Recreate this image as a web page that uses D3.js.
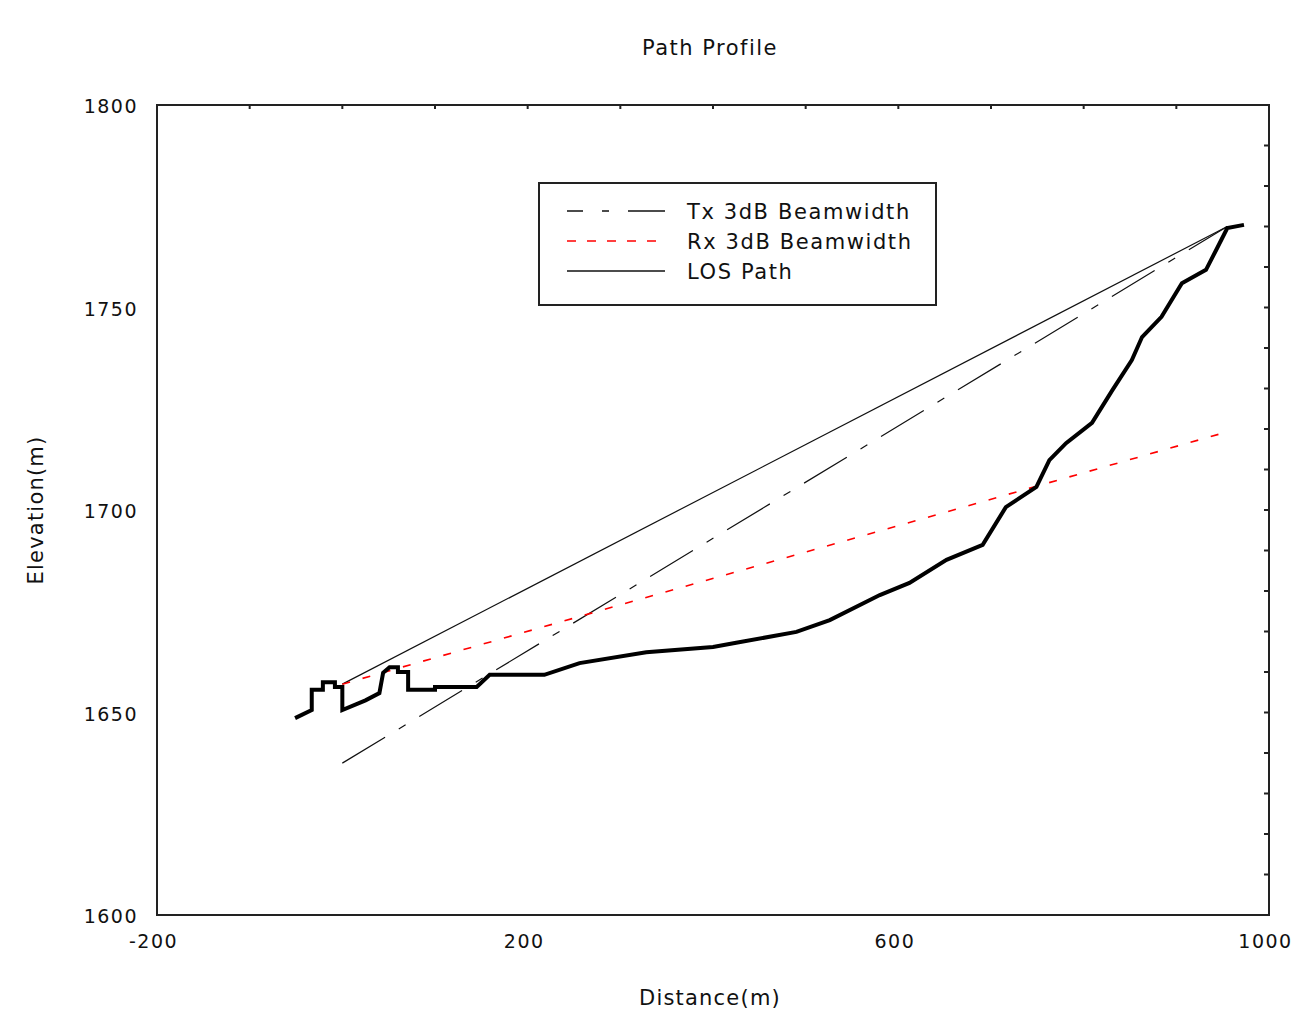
<!DOCTYPE html>
<html><head><meta charset="utf-8">
<script src="https://cdn.jsdelivr.net/npm/d3@7"></script>
<style>
html,body{margin:0;padding:0;background:#fff;}
text{font-family:"DejaVu Sans",sans-serif;fill:#111;}
</style></head>
<body><svg id="c" width="1302" height="1017"></svg>
<script>
// Terrain profile (distance m, elevation m)
const terrainX = [-51,-33,-33,-21,-21,-8,-8,0,0,25,40,44,51,60,60,71,71,100,100,145,159,218,256,328,400,425,490,526,580,612,652,691,716,749,763,781,809,831,852,863,884,906,932,943,955,973];
const terrainY = [1648.6,1650.6,1655.6,1655.6,1657.5,1657.5,1656.3,1656.3,1650.6,1653,1654.8,1659.8,1661.2,1661.2,1660,1660,1655.6,1655.6,1656.3,1656.3,1659.3,1659.3,1662.2,1664.9,1666.2,1667.2,1669.9,1672.8,1679,1682,1687.7,1691.4,1700.7,1705.7,1712.3,1716.5,1721.5,1729.6,1737,1742.7,1747.7,1756,1759.3,1764.2,1769.6,1770.4];
const losX = [0,955];
const losY = [1657,1770];
const txX = [0,955];
const txY = [1637.5,1770];
const rxX = [0,955];
const rxY = [1657,1719.3];
const xTicks = [-200,200,600,1000];
const yTicks = [1600,1650,1700,1750,1800];
const legendLabels = ["Tx 3dB Beamwidth","Rx 3dB Beamwidth","LOS Path"];

const svg = d3.select("#c");
const L=157,T=105,R=1269,B=915;
const x = d3.scaleLinear().domain([-200,1000]).range([L,R]);
const y = d3.scaleLinear().domain([1600,1800]).range([B,T]);

svg.append("rect").attr("width",1302).attr("height",1017).attr("fill","#fff");

// minor ticks: top every 100, right every 10
const topMinor = d3.range(-100,1000,100);
svg.append("g").selectAll("line").data(topMinor).join("line")
  .attr("x1",d=>x(d)).attr("x2",d=>x(d)).attr("y1",T).attr("y2",T+4)
  .attr("stroke","#222").attr("stroke-width",2);
const rightMinor = d3.range(1610,1800,10);
svg.append("g").selectAll("line").data(rightMinor).join("line")
  .attr("x1",R-5).attr("x2",R).attr("y1",d=>y(d)).attr("y2",d=>y(d))
  .attr("stroke","#222").attr("stroke-width",2);

// axes labels via d3 axes (no tick lines)
const xa = svg.append("g").attr("transform",`translate(0,${B})`)
  .call(d3.axisBottom(x).tickValues(xTicks).tickSize(0).tickPadding(20).tickFormat(d=>String(d)));
xa.select(".domain").remove();
xa.selectAll("text").attr("font-size",19).attr("letter-spacing",1.5).attr("dx",-4)
  .attr("font-family","DejaVu Sans").attr("fill","#111");
const ya = svg.append("g").attr("transform",`translate(${L},0)`)
  .call(d3.axisLeft(y).tickValues(yTicks).tickSize(0).tickPadding(19).tickFormat(d=>String(d)));
ya.select(".domain").remove();
ya.selectAll("text").attr("font-size",19).attr("letter-spacing",1.5).attr("dy","0.4em")
  .attr("font-family","DejaVu Sans").attr("fill","#111");

// frame
svg.append("rect").attr("x",L).attr("y",T).attr("width",R-L).attr("height",B-T)
  .attr("fill","none").attr("stroke","#222").attr("stroke-width",2);

const line = d3.line().x(d=>x(d[0])).y(d=>y(d[1]));
const zip=(a,b)=>a.map((v,i)=>[v,b[i]]);

svg.append("path").attr("d",line(zip(losX,losY))).attr("fill","none").attr("stroke","#111").attr("stroke-width",1.2);
svg.append("path").attr("d",line(zip(txX,txY))).attr("fill","none").attr("stroke","#111").attr("stroke-width",1.2)
  .attr("stroke-dasharray","50,16,8,16");
svg.append("path").attr("d",line(zip(rxX,rxY))).attr("fill","none").attr("stroke","#f00").attr("stroke-width",1.6)
  .attr("stroke-dasharray","8,13");
svg.append("path").attr("d",line(zip(terrainX,terrainY))).attr("fill","none").attr("stroke","#000")
  .attr("stroke-width",4).attr("stroke-linejoin","miter");

// legend
const lg = svg.append("g");
lg.append("rect").attr("x",539).attr("y",183).attr("width",397).attr("height",122)
  .attr("fill","#fff").attr("stroke","#222").attr("stroke-width",2);
const styles=[{c:"#111",d:"16,19,7,19,40",w:1.5},{c:"#f00",d:"9,11",w:1.6},{c:"#111",d:null,w:1.5}];
legendLabels.forEach((t,i)=>{
  const yy=211+i*30;
  const l=lg.append("line").attr("x1",567).attr("x2",665).attr("y1",yy).attr("y2",yy)
    .attr("stroke",styles[i].c).attr("stroke-width",styles[i].w);
  if(styles[i].d) l.attr("stroke-dasharray",styles[i].d);
  lg.append("text").attr("x",687).attr("y",yy+8).attr("font-size",21).attr("letter-spacing",1.6).text(t);
});

// titles
svg.append("text").attr("x",710).attr("y",55).attr("text-anchor","middle").attr("font-size",21).attr("letter-spacing",1.5).text("Path Profile");
svg.append("text").attr("x",710).attr("y",1005).attr("text-anchor","middle").attr("font-size",21).attr("letter-spacing",1.2).text("Distance(m)");
svg.append("text").attr("transform","translate(43,510) rotate(-90)").attr("text-anchor","middle").attr("font-size",21).attr("letter-spacing",1.2).text("Elevation(m)");
</script></body></html>
